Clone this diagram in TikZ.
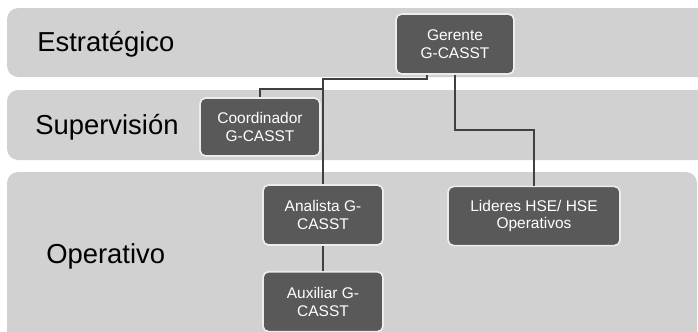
\documentclass[tikz,border=0pt]{standalone}
\usepackage{fontspec}
\setmainfont{Liberation Sans}
\usepackage{xcolor}
\usepackage{tikz}
\usetikzlibrary{positioning}
\definecolor{bandgray}{RGB}{209, 209, 209}
\definecolor{boxgray}{RGB}{89, 89, 89}
\definecolor{edgegray}{RGB}{236, 236, 236}
\definecolor{linegray}{RGB}{64, 64, 64}

\begin{document}
\begin{tikzpicture}[
  x=0.025cm, y=-0.025cm,
  band/.style={fill=bandgray, rounded corners=8pt},
  bandlabel/.style={anchor=west, font=\fontsize{19.5}{22}\selectfont, text=black, inner sep=0pt},
  role/.style={rectangle, rounded corners=4pt, draw=edgegray, line width=1.2pt, fill=boxgray,
               text=white, minimum width=3cm, minimum height=1.5cm, align=center,
               font=\fontsize{11}{12.5}\selectfont},
  link/.style={draw=linegray, line width=1.6pt}
]
\clip (0,0) rectangle (698,331);

% Levels
\fill[band] (7,8) rectangle (712,77);
\fill[band] (7,90) rectangle (712,160);
\fill[band] (7,172) rectangle (697,350);
\node[bandlabel] (lvlest) at (37,44) {Estratégico};
\node[bandlabel] (lvlsup) at (35,127) {Supervisión};
\node[bandlabel] (lvlope) at (46,256) {Operativo};

% Roles
\node[role, minimum width=2.95cm] (gerente) at (455,44) {Gerente\\G-CASST};
\node[role, minimum height=1.45cm] (coordinador) at (260,127) {Coordinador\\G-CASST};
\node[role] (analista) at (323,215) {Analista G-\\CASST};
\node[role, below=0.625cm of analista] (auxiliar) {Auxiliar G-\\CASST};
\node[role, minimum width=4.3cm, minimum height=1.48cm] (lideres) at (534,216) {Lideres HSE/ HSE\\Operativos};

% Connectors
\coordinate (j1) at (323,79);
\coordinate (j2) at (323,89);
\coordinate (j3) at (534,130);
\draw[link] ([xshift=-0.7cm]gerente.south) |- (j1) -- (analista.north);
\draw[link] (j2) -| (coordinador.north);
\draw[link] (gerente.south) |- (j3) -- (lideres.north);
\draw[link] (analista) -- (auxiliar);

\end{tikzpicture}
\end{document}
